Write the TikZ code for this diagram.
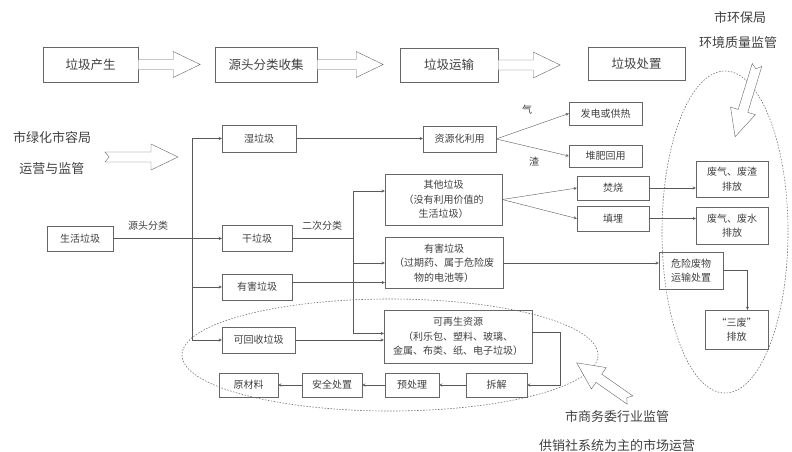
\documentclass[tikz,border=0pt]{standalone}
\usepackage{fontspec}
\setmainfont{Noto Sans CJK SC}
% hollow block arrow: tail, angle, length, notch depth
\newcommand{\hollowarrow}[4]{%
  \draw[blockarrow,shift={(#1)},rotate=#2] (0,-5) -- (#3-27,-5) -- (#3-27,-13) -- (#3,0)
    -- (#3-27,13) -- (#3-27,5) -- (0,5) -- (#4,0) -- cycle;}
\begin{document}
\begin{tikzpicture}[>=stealth,x=1pt,y=-1pt,
  flow/.style={draw=black!65,thin},
  dims/.style 2 args={minimum width=#1pt,minimum height=#2pt},
  cell/.style={draw=black!60,text=black!75,font=\fontsize{10}{14.5}\selectfont,align=center,inner sep=1pt},
  topbox/.style={draw=black!60,text=black!75,font=\fontsize{12.5}{15}\selectfont,inner sep=1pt},
  blockarrow/.style={draw=black!60,fill=white,line join=miter},
  note/.style={text=black!75,font=\fontsize{13}{16}\selectfont},
  tag/.style={text=black!75,font=\fontsize{10}{12}\selectfont},
  zone/.style={draw=black!55,line width=0.6pt,dash pattern=on 1.5pt off 1.5pt}]
\useasboundingbox (0,0) rectangle (792,451);
% supervision zones
\draw[zone] (390,355) ellipse [x radius=208pt,y radius=56pt];
\draw[zone] (725,232) ellipse [x radius=63pt,y radius=161pt];
% top row
\node[topbox,dims={95}{35}] (make) at (90.5,64.5) {垃圾产生};
\node[topbox,dims={102}{35}] (collect) at (266,64.5) {源头分类收集};
\node[topbox,dims={98}{34}] (haul) at (449,65) {垃圾运输};
\node[topbox,dims={97}{33}] (treat) at (636.5,63.5) {垃圾处置};
\hollowarrow{make.east}{0}{62}{0}
\hollowarrow{collect.east}{0}{66}{0}
\hollowarrow{haul.east}{0}{62}{0}
% agencies
\node[note] (green) at (52,138) {市绿化市容局};
\node[note] (greenb) at (52,169) {运营与监管};
\hollowarrow{105,157}{0}{73}{4}
\node[note] (env) at (740,18) {市环保局};
\node[note] (envb) at (738,43) {环境质量监管};
\hollowarrow{757,65}{-107}{75}{4}
\node[note] (trade) at (617,417) {市商务委行业监管};
\node[note] (tradeb) at (617,446) {供销社系统为主的市场运营};
\hollowarrow{630,400}{145.1}{65}{4}
% boxes
\node[cell,dims={66}{25}] (life) at (80,238.5) {生活垃圾};
\node[cell,dims={74}{27}] (wet) at (259,138.5) {湿垃圾};
\node[cell,dims={70}{26}] (dry) at (257,238.5) {干垃圾};
\node[cell,dims={70}{26}] (harm) at (257,287) {有害垃圾};
\node[cell,dims={73}{26}] (recyc) at (258.5,340) {可回收垃圾};
\node[cell,dims={73}{26}] (reuse) at (459.5,139) {资源化利用};
\node[cell,dims={73}{23}] (power) at (605.5,113.5) {发电或供热};
\node[cell,dims={73}{22}] (compost) at (605.5,156) {堆肥回用};
\node[cell,dims={117}{51}] (other) at (443.5,199.5) {其他垃圾\\（没有利用价值的\\生活垃圾）};
\node[cell,dims={118}{51}] (hazard) at (444,263) {有害垃圾\\（过期药、属于危险废\\物的电池等）};
\node[cell,dims={148}{53}] (renew) at (458,336.5) {可再生资源\\（利乐包、塑料、玻璃、\\金属、布类、纸、电子垃圾）};
\node[cell,dims={72}{24}] (burn) at (613,188) {焚烧};
\node[cell,dims={72}{25}] (landfill) at (613,218.5) {填埋};
\node[cell,dims={72}{36}] (gas1) at (732,179) {废气、废渣\\排放};
\node[cell,dims={72}{37}] (gas2) at (732,225.5) {废气、废水\\排放};
\node[cell,dims={64}{37}] (danger) at (691,270.5) {危险废物\\运输处置};
\node[cell,dims={63}{39}] (three) at (736.5,329.5) {“三废”\\排放};
\node[cell,dims={59}{24}] (raw) at (248.5,385) {原材料};
\node[cell,dims={60}{24}] (safe) at (332,385) {安全处置};
\node[cell,dims={54}{24}] (pre) at (412,385) {预处理};
\node[cell,dims={61}{24}] (split) at (496.5,385) {拆解};
% labels
\node[tag] (srctag) at (148,226) {源头分类};
\node[tag] (twotag) at (322,226) {二次分类};
\node[tag] (gastag) at (527,110) {气};
\node[tag] (slagtag) at (534,162) {渣};
% connectors
\coordinate (j1) at (192,0);
\coordinate (j2) at (353,0);
\coordinate (harmout) at ([yshift=4.5pt]harm.east);
\draw[flow,->] (life.east) -- (dry.west);
\draw[flow,->] (j1 |- life.east) |- (wet.west);
\draw[flow,->] (j1 |- life.east) |- (harm.west);
\draw[flow,->] (j1 |- life.east) |- (recyc.west);
\draw[flow] (dry.east) -- (j2 |- dry.east);
\draw[flow,->] (j2 |- dry.east) |- ([yshift=8.5pt]other.west);
\draw[flow,->] (j2 |- dry.east) |- (hazard.west);
\draw[flow,->] (j2 |- dry.east) |- ([yshift=3pt]renew.west);
\draw[flow,->] (harmout) -- (hazard.west |- harmout);
\draw[flow,->] (recyc.east) -- (renew.west |- recyc.east);
\draw[flow,->] (wet.east) -- (reuse.west |- wet.east);
\draw[flow,->] (reuse.east) -- (power.west);
\draw[flow,->] (reuse.east) -- (compost.west);
\draw[flow,->] (other.east) -- (burn.west);
\draw[flow,->] (other.east) -- (landfill.west);
\draw[flow,->] (burn.east) -- (gas1.west |- burn.east);
\draw[flow,->] (landfill.east) -- (gas2.west |- landfill.east);
\draw[flow,->] (hazard.east) -- (danger.west |- hazard.east);
\draw[flow,->] (danger.east) -| ([xshift=11pt]three.north);
\draw[flow,->] ([yshift=4pt]renew.east) -- ++(28,0) |- (split.east);
\draw[flow,->] (split.west) -- (pre.east);
\draw[flow,->] (pre.west) -- (safe.east);
\draw[flow,->] (safe.west) -- (raw.east);
\end{tikzpicture}
\end{document}
